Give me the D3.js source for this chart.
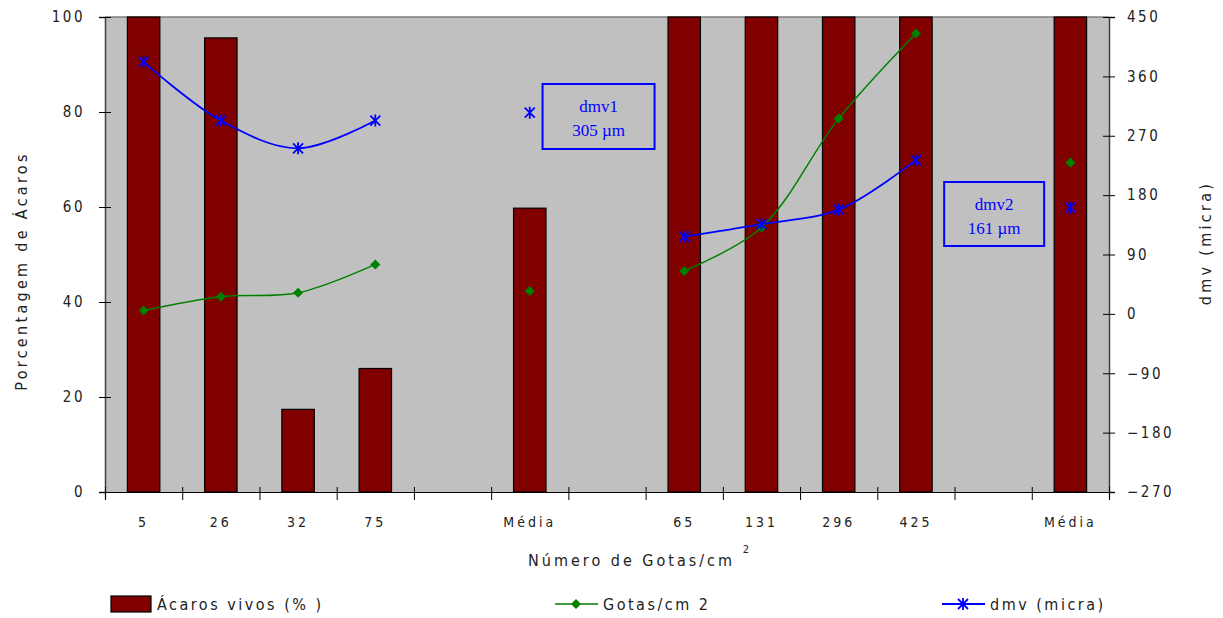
<!DOCTYPE html>
<html>
<head>
<meta charset="utf-8">
<script src="https://cdn.jsdelivr.net/npm/d3@7"></script>
<style>
  html, body { margin: 0; padding: 0; background: #fff; }
  svg { display: block; }
</style>
</head>
<body>
<div id="chart"></div>
<script>
// Slots along the x axis (blank slots separate the two groups)
const categories = ["5", "26", "32", "75", "", "Média", "", "65", "131", "296", "425", "", "Média"];
// Live mites (%), left axis
const acarosVivos = [100, 95.6, 17.4, 26, null, 59.75, null, 100, 100, 100, 100, null, 100];
// Droplets per cm², right axis
const gotas = [5, 26, 32, 75, null, 34.5, null, 65, 131, 296, 425, null, 229.25];
// Volume median diameter (µm), right axis
const dmv = [382, 293, 251, 293, null, 305, null, 117, 136, 158, 233, null, 161];
// Points joined by the smoothed lines in each group
const lineGroups = [[0, 1, 2, 3], [7, 8, 9, 10]];
const leftTicks = [0, 20, 40, 60, 80, 100];
const rightTicks = [-270, -180, -90, 0, 90, 180, 270, 360, 450];

const W = 1223, H = 618;
const plot = { left: 105, right: 1109, top: 17, bottom: 492 };
const FONT = "'Liberation Sans Narrow','DejaVu Sans Condensed','Liberation Sans',Arial,sans-serif";

const svg = d3.select("#chart").append("svg").attr("width", W).attr("height", H)
  .style("font-family", FONT);

const idx = d3.range(categories.length);
const x = d3.scaleBand().domain(idx).range([plot.left, plot.right])
  .paddingInner(0.58).paddingOuter(0.29);
const xEdge = d3.scaleLinear().domain([0, categories.length]).range([plot.left, plot.right]);
const yL = d3.scaleLinear().domain([0, 100]).range([plot.bottom, plot.top]);
const yR = d3.scaleLinear().domain([-270, 450]).range([plot.bottom, plot.top]);
const cx = i => x(i) + x.bandwidth() / 2;

// Plot background
svg.append("rect")
  .attr("x", plot.left).attr("y", plot.top)
  .attr("width", plot.right - plot.left).attr("height", plot.bottom - plot.top)
  .attr("fill", "#c0c0c0");
svg.append("line")
  .attr("x1", plot.left).attr("x2", plot.right)
  .attr("y1", plot.top).attr("y2", plot.top)
  .attr("stroke", "#808080").attr("stroke-width", 1.5);

// Bars
svg.append("g").selectAll("rect")
  .data(idx.filter(i => acarosVivos[i] != null))
  .join("rect")
  .attr("x", i => x(i))
  .attr("y", i => yL(acarosVivos[i]))
  .attr("width", x.bandwidth())
  .attr("height", i => yL(0) - yL(acarosVivos[i]))
  .attr("fill", "#800000")
  .attr("stroke", "#000").attr("stroke-width", 1.2);

// Left axis
const axL = svg.append("g").attr("transform", `translate(${plot.left},0)`)
  .call(d3.axisLeft(yL).tickValues(leftTicks).tickSize(6).tickPadding(14));
axL.select(".domain").attr("stroke", "#404040").attr("stroke-width", 1.5);
axL.selectAll(".tick line").attr("x1", 6).attr("x2", -6).attr("stroke", "#000");
axL.selectAll(".tick text").attr("font-size", 15).attr("letter-spacing", 2.5)
  .attr("font-family", FONT).attr("fill", "#222");

// Right axis
const axR = svg.append("g").attr("transform", `translate(${plot.right},0)`)
  .call(d3.axisRight(yR).tickValues(rightTicks).tickSize(6).tickPadding(12));
axR.select(".domain").attr("stroke", "#404040").attr("stroke-width", 1.5);
axR.selectAll(".tick line").attr("x1", -6).attr("x2", 6).attr("stroke", "#000");
axR.selectAll(".tick text").attr("font-size", 15).attr("letter-spacing", 2.5)
  .attr("font-family", FONT).attr("fill", "#222");

// Bottom axis: ticks on slot boundaries, labels at slot centres
const axB = svg.append("g").attr("transform", `translate(0,${plot.bottom})`)
  .call(d3.axisBottom(xEdge).tickValues(d3.range(categories.length + 1)).tickFormat("").tickSize(8));
axB.select(".domain").attr("stroke", "#000").attr("stroke-width", 1.2);
axB.selectAll(".tick line").attr("y1", -5).attr("stroke", "#000");
svg.append("g").selectAll("text")
  .data(idx)
  .join("text")
  .attr("x", i => cx(i)).attr("y", 527)
  .attr("text-anchor", "middle")
  .attr("font-size", 14).attr("letter-spacing", 3)
  .attr("fill", "#222")
  .text(i => categories[i]);

// Smoothed lines
const lineR = vals => d3.line().x(i => cx(i)).y(i => yR(vals[i])).curve(d3.curveCatmullRom.alpha(0.5));
svg.append("g").selectAll("path")
  .data(lineGroups).join("path")
  .attr("d", g => lineR(gotas)(g))
  .attr("fill", "none").attr("stroke", "#008000").attr("stroke-width", 1.5);
svg.append("g").selectAll("path")
  .data(lineGroups).join("path")
  .attr("d", g => lineR(dmv)(g))
  .attr("fill", "none").attr("stroke", "#0000ff").attr("stroke-width", 1.8);

// Markers
const diamond = d3.symbol().type(d3.symbolDiamond2).size(64);
function star(g, color) {
  const s = 5;
  g.append("path")
    .attr("d", `M${-s},${-s}L${s},${s}M${-s},${s}L${s},${-s}M0,${-s - 1}L0,${s + 1}`)
    .attr("stroke", color).attr("stroke-width", 1.8).attr("fill", "none");
}
svg.append("g").selectAll("path")
  .data(idx.filter(i => gotas[i] != null)).join("path")
  .attr("transform", i => `translate(${cx(i)},${yR(gotas[i])})`)
  .attr("d", diamond).attr("fill", "#008000");
svg.append("g").selectAll("g")
  .data(idx.filter(i => dmv[i] != null)).join("g")
  .attr("transform", i => `translate(${cx(i)},${yR(dmv[i])})`)
  .each(function () { star(d3.select(this), "#0000ff"); });

// Mean dmv annotation boxes
const notes = [
  { name: "dmv1", i: 5, dx: 29, y: 84, w: 112, h: 65 },
  { name: "dmv2", i: 12, dx: -110, y: 182, w: 100, h: 64 }
];
notes.forEach(n => {
  const left = x(n.i) + n.dx;
  const g = svg.append("g");
  g.append("rect").attr("x", left).attr("y", n.y).attr("width", n.w).attr("height", n.h)
    .attr("fill", "none").attr("stroke", "#0000ff").attr("stroke-width", 2);
  g.append("text").attr("x", left + n.w / 2).attr("y", n.y + 28)
    .attr("text-anchor", "middle").attr("fill", "#0000ff")
    .attr("font-family", "'Liberation Serif','Times New Roman',serif").attr("font-size", 17)
    .text(n.name);
  g.append("text").attr("x", left + n.w / 2).attr("y", n.y + 52)
    .attr("text-anchor", "middle").attr("fill", "#0000ff")
    .attr("font-family", "'Liberation Serif','Times New Roman',serif").attr("font-size", 17)
    .text(`${dmv[n.i]} µm`);
});

// Axis titles
svg.append("text")
  .attr("transform", `translate(27,271) rotate(-90)`)
  .attr("text-anchor", "middle").attr("font-size", 16).attr("letter-spacing", 3.3)
  .attr("fill", "#222").text("Porcentagem de Ácaros");
svg.append("text")
  .attr("transform", `translate(1211,243) rotate(-90)`)
  .attr("text-anchor", "middle").attr("font-size", 16).attr("letter-spacing", 3.3)
  .attr("fill", "#222").text("dmv (micra)");
const xt = svg.append("text").attr("x", 640).attr("y", 566)
  .attr("text-anchor", "middle").attr("font-size", 16).attr("letter-spacing", 3)
  .attr("fill", "#222");
xt.append("tspan").text("Número de Gotas/cm ");
xt.append("tspan").attr("dy", -13).attr("font-size", 11).text("2");

// Legend
const leg = svg.append("g").attr("font-size", 16).attr("letter-spacing", 2.5).attr("fill", "#222");
leg.append("rect").attr("x", 111).attr("y", 596).attr("width", 40).attr("height", 16)
  .attr("fill", "#800000").attr("stroke", "#000").attr("stroke-width", 1.2);
leg.append("text").attr("x", 157).attr("y", 610).text("Ácaros vivos (% )");
leg.append("line").attr("x1", 555).attr("x2", 598).attr("y1", 604).attr("y2", 604)
  .attr("stroke", "#008000").attr("stroke-width", 1.5);
leg.append("path").attr("transform", "translate(576,604)").attr("d", diamond).attr("fill", "#008000");
leg.append("text").attr("x", 603).attr("y", 610).text("Gotas/cm 2");
leg.append("line").attr("x1", 942).attr("x2", 985).attr("y1", 604).attr("y2", 604)
  .attr("stroke", "#0000ff").attr("stroke-width", 1.8);
star(leg.append("g").attr("transform", "translate(963,604)"), "#0000ff");
leg.append("text").attr("x", 990).attr("y", 610).text("dmv (micra)");
</script>
</body>
</html>
